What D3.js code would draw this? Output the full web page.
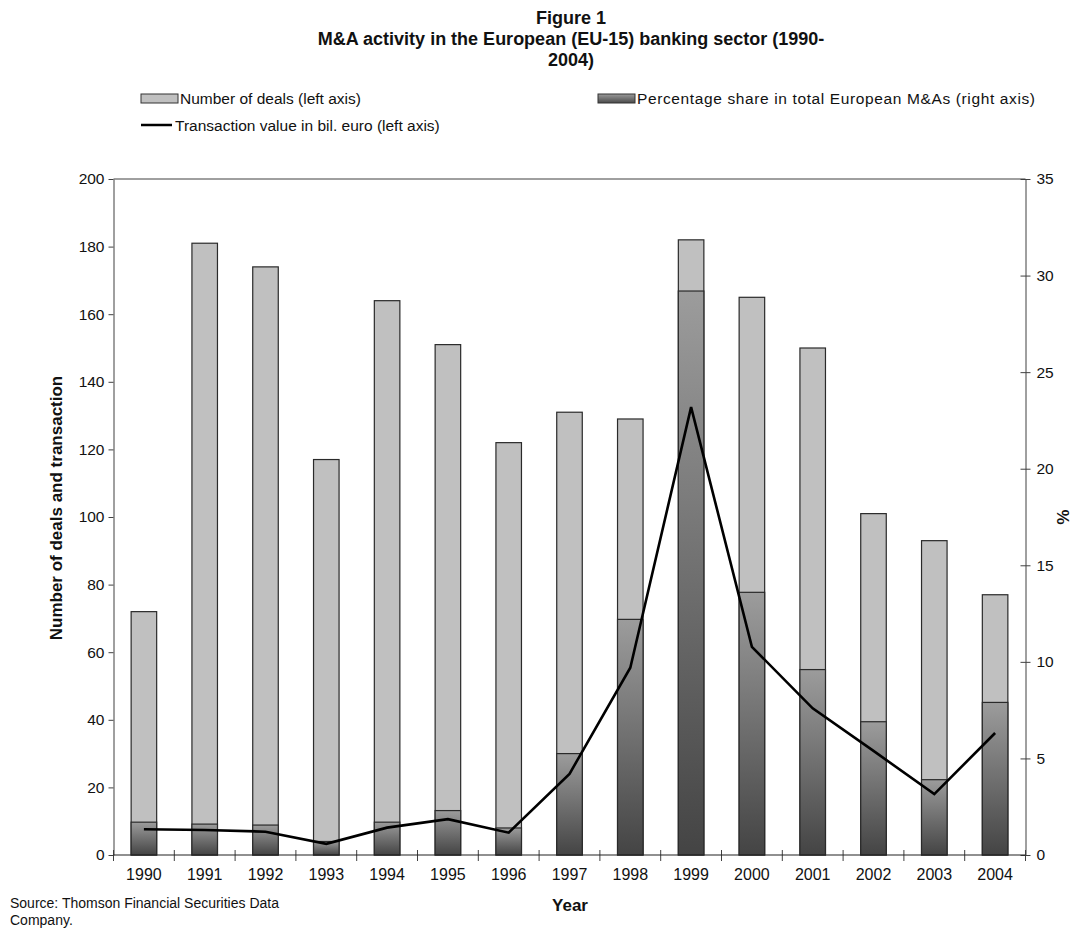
<!DOCTYPE html>
<html>
<head>
<meta charset="utf-8">
<script src="https://cdn.jsdelivr.net/npm/d3@7"></script>
<style>
  html, body { margin: 0; padding: 0; background: #fff; }
  svg { display: block; font-family: "Liberation Sans", Arial, sans-serif; }
</style>
</head>
<body>
<svg id="chart" width="1087" height="949"></svg>
<script>
const years = ["1990","1991","1992","1993","1994","1995","1996","1997","1998","1999","2000","2001","2002","2003","2004"];
const deals = [72, 181, 174, 117, 164, 151, 122, 131, 129, 182, 165, 150, 101, 93, 77];
const share = [1.7, 1.6, 1.55, 0.7, 1.7, 2.3, 1.4, 5.25, 12.2, 29.2, 13.6, 9.6, 6.9, 3.9, 7.9];
const value = [7.6, 7.4, 6.9, 3.3, 8.1, 10.6, 6.6, 24.0, 55.4, 132.5, 61.6, 43.4, 30.8, 18.0, 36.1];
const leftTicks = [0, 20, 40, 60, 80, 100, 120, 140, 160, 180, 200];
const rightTicks = [0, 5, 10, 15, 20, 25, 30, 35];
const titleLines = ["Figure 1", "M&A activity in the European (EU-15) banking sector (1990-", "2004)"];
const legendLabels = ["Number of deals (left axis)", "Percentage share in total European M&As (right axis)", "Transaction value in bil. euro (left axis)"];

const svg = d3.select("#chart");
const L = 113.5, R = 1025.5, T = 179, B = 855;
const axisColor = "#404040";

const x = d3.scaleBand().domain(years).range([L, R]).paddingInner(0.58).paddingOuter(0.29);
const yL = d3.scaleLinear().domain([0, 200]).range([B, T]);
const yR = d3.scaleLinear().domain([0, 35]).range([B, T]);
const bw = x.bandwidth();
const step = x.step();

// gradient for share bars
const defs = svg.append("defs");
const g = defs.append("linearGradient").attr("id", "darkGrad")
  .attr("x1", 0).attr("y1", 0).attr("x2", 0).attr("y2", 1);
g.append("stop").attr("offset", "0%").attr("stop-color", "#9c9c9c");
g.append("stop").attr("offset", "100%").attr("stop-color", "#444444");
const gl = defs.append("linearGradient").attr("id", "darkGradLeg")
  .attr("x1", 0).attr("y1", 0).attr("x2", 0).attr("y2", 1);
gl.append("stop").attr("offset", "0%").attr("stop-color", "#9a9a9a");
gl.append("stop").attr("offset", "100%").attr("stop-color", "#4a4a4a");

// Title
svg.append("g").selectAll("text").data(titleLines).join("text")
  .attr("x", 571).attr("y", (d, i) => 24 + i * 21)
  .attr("text-anchor", "middle").attr("font-weight", "bold").attr("font-size", 18)
  .attr("fill", "#111").text(d => d);

// Legend
const leg = svg.append("g").attr("font-size", 15.5).attr("fill", "#111");
leg.append("rect").attr("x", 141).attr("y", 94).attr("width", 37).attr("height", 9)
  .attr("fill", "#c0c0c0").attr("stroke", "#333").attr("stroke-width", 1);
leg.append("text").attr("x", 180).attr("y", 104).text(legendLabels[0]);
leg.append("rect").attr("x", 598).attr("y", 94).attr("width", 37).attr("height", 9)
  .attr("fill", "url(#darkGradLeg)").attr("stroke", "#333").attr("stroke-width", 1);
leg.append("text").attr("x", 637).attr("y", 104)
  .attr("textLength", 398).attr("lengthAdjust", "spacing").text(legendLabels[1]);
leg.append("line").attr("x1", 141).attr("x2", 172).attr("y1", 125).attr("y2", 125)
  .attr("stroke", "#000").attr("stroke-width", 2.5);
leg.append("text").attr("x", 175).attr("y", 131).text(legendLabels[2]);

// Bars: deals (light)
svg.append("g").selectAll("rect").data(years).join("rect")
  .attr("x", d => x(d)).attr("width", bw)
  .attr("y", (d, i) => yL(deals[i])).attr("height", (d, i) => B - yL(deals[i]))
  .attr("fill", "#c0c0c0").attr("stroke", "#2a2a2a").attr("stroke-width", 1.2);

// Bars: share (dark, gradient)
svg.append("g").selectAll("rect").data(years).join("rect")
  .attr("x", d => x(d)).attr("width", bw)
  .attr("y", (d, i) => yR(share[i])).attr("height", (d, i) => B - yR(share[i]))
  .attr("fill", "url(#darkGrad)").attr("stroke", "#2a2a2a").attr("stroke-width", 1.2);

// Axes
const fontSize = 15.5;
const axL = svg.append("g").attr("transform", `translate(${L},0)`)
  .call(d3.axisLeft(yL).tickValues(leftTicks).tickSize(5).tickSizeOuter(0).tickPadding(4));
const axR = svg.append("g").attr("transform", `translate(${R},0)`)
  .call(d3.axisRight(yR).tickValues(rightTicks).tickSize(5).tickSizeOuter(0).tickPadding(6));
axR.selectAll(".tick line").attr("x1", -5);
const axB = svg.append("g").attr("transform", `translate(0,${B})`)
  .call(d3.axisBottom(x).tickSize(0).tickPadding(14).tickSizeOuter(0));
axB.select(".domain").remove();
[axL, axR, axB].forEach(a => {
  a.selectAll("text").attr("font-size", fontSize).attr("fill", "#111")
    .attr("font-family", "'Liberation Sans', Arial, sans-serif");
  a.selectAll("line, path").attr("stroke", axisColor);
});
axB.selectAll("text").attr("font-size", 16);
// boundary ticks on x axis
const bounds = [L].concat(years.map(d => x(d) + bw / 2 + step / 2));
svg.append("g").selectAll("line").data(bounds).join("line")
  .attr("x1", d => d).attr("x2", d => d).attr("y1", B - 5).attr("y2", B + 6)
  .attr("stroke", axisColor);
// baseline and top border
svg.append("line").attr("x1", L).attr("x2", R).attr("y1", B).attr("y2", B)
  .attr("stroke", "#222").attr("stroke-width", 1.2);
svg.append("line").attr("x1", L).attr("x2", R).attr("y1", T).attr("y2", T)
  .attr("stroke", axisColor);

// Line: transaction value
const line = d3.line()
  .x((d, i) => x(years[i]) + bw / 2)
  .y(d => yL(d));
svg.append("path").datum(value).attr("d", line)
  .attr("fill", "none").attr("stroke", "#000").attr("stroke-width", 2.6)
  .attr("stroke-linejoin", "miter");

// Axis titles
svg.append("text").attr("transform", `translate(62,508) rotate(-90)`)
  .attr("text-anchor", "middle").attr("font-weight", "bold").attr("font-size", 17)
  .attr("fill", "#111").text("Number of deals and transaction");
svg.append("text").attr("transform", `translate(1057,${(T + B) / 2}) rotate(90)`)
  .attr("text-anchor", "middle").attr("font-weight", "bold").attr("font-size", 17)
  .attr("fill", "#111").text("%");
svg.append("text").attr("x", 570).attr("y", 911)
  .attr("text-anchor", "middle").attr("font-weight", "bold").attr("font-size", 17)
  .attr("fill", "#111").text("Year");

// Source
const src = svg.append("g").attr("font-size", 14).attr("fill", "#111");
src.append("text").attr("x", 10).attr("y", 908).text("Source: Thomson Financial Securities Data");
src.append("text").attr("x", 10).attr("y", 925).text("Company.");
</script>
</body>
</html>
